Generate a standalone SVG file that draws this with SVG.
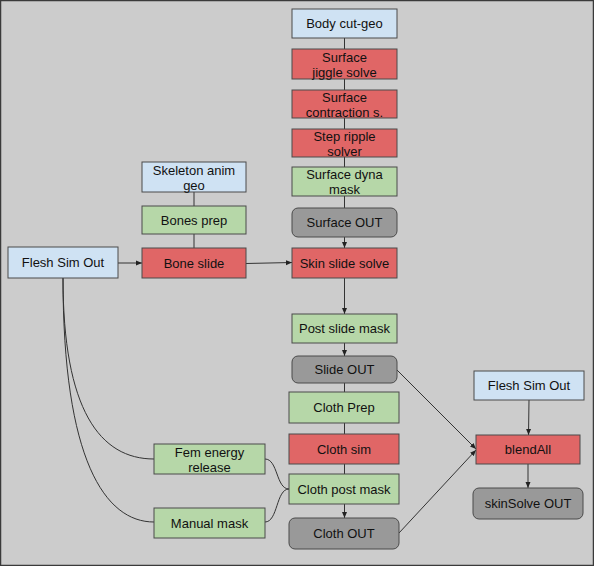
<svg xmlns="http://www.w3.org/2000/svg" width="594" height="566" viewBox="0 0 594 566">
<defs>
<marker id="ah" markerWidth="6" markerHeight="6" refX="6" refY="3" orient="auto" markerUnits="userSpaceOnUse">
<path d="M0,0.5 L6,3 L0,5.5 Z" fill="#222"/>
</marker>
<style>
.n rect{stroke:#4a4a4a;stroke-width:1}
.blue rect{fill:#cfe2f3}
.red rect{fill:#e06666}
.green rect{fill:#b6d7a8}
.gray rect{fill:#999999}
text{font-family:"Liberation Sans",Arial,sans-serif;font-size:13px;fill:#111;text-anchor:middle}
.c path{fill:none;stroke:#333;stroke-width:1}
</style>
</defs>
<rect x="0.5" y="0.5" width="593" height="565" fill="#cccccc" stroke="#3a3a3a" stroke-width="1.5"/>
<g class="c" id="connectors">
<path d="M344.5,38 V49"/>
<path d="M344.5,79 V90"/>
<path d="M344.5,118 V129"/>
<path d="M344.5,157 V167"/>
<path d="M344.5,196 V208"/>
<path d="M344.5,237 V248" marker-end="url(#ah)"/>
<path d="M344.5,278 V314" marker-end="url(#ah)"/>
<path d="M344.5,343 V356" marker-end="url(#ah)"/>
<path d="M344.5,383 V392"/>
<path d="M344.5,423 V434"/>
<path d="M344.5,464 V474"/>
<path d="M344.5,504 V518" marker-end="url(#ah)"/>
<path d="M194,192 V206"/>
<path d="M194,234 V248"/>
<path d="M118,263 H142" marker-end="url(#ah)"/>
<path d="M246,263.5 L292,262.5" marker-end="url(#ah)"/>
<path d="M63,278 C63,410 100,459 154,459"/>
<path d="M63,278 C63,460 105,522 154,522"/>
<path d="M265,459 C278,459 276,489 289,489"/>
<path d="M265,522 C278,522 276,489 289,489"/>
<path d="M396,369 L476,449" marker-end="url(#ah)"/>
<path d="M399,533 L476,450" marker-end="url(#ah)"/>
<path d="M529,400 L528.5,435" marker-end="url(#ah)"/>
<path d="M528,464 V488" marker-end="url(#ah)"/>
</g>
<g id="body-cut-geo" class="n blue"><rect x="292" y="9" width="105" height="29"/><text x="344.5" y="28">Body cut-geo</text></g>
<g id="surface-jiggle" class="n red"><rect x="292" y="49" width="105" height="30"/><text x="344.5" y="61.5">Surface</text><text x="344.5" y="76.5">jiggle solve</text></g>
<g id="surface-contraction" class="n red"><rect x="292" y="90" width="105" height="28"/><text x="344.5" y="101.5">Surface</text><text x="344.5" y="116.5">contraction s.</text></g>
<g id="step-ripple" class="n red"><rect x="292" y="129" width="105" height="28"/><text x="344.5" y="140.5">Step ripple</text><text x="344.5" y="155.5">solver</text></g>
<g id="surface-dyna-mask" class="n green"><rect x="292" y="167" width="105" height="29"/><text x="344.5" y="179">Surface dyna</text><text x="344.5" y="194">mask</text></g>
<g id="surface-out" class="n gray"><rect x="292" y="208" width="105" height="29" rx="6"/><text x="344.5" y="227">Surface OUT</text></g>
<g id="skin-slide-solve" class="n red"><rect x="292" y="248" width="105" height="30"/><text x="344.5" y="267.5">Skin slide solve</text></g>
<g id="post-slide-mask" class="n green"><rect x="292" y="314" width="105" height="29"/><text x="344.5" y="333">Post slide mask</text></g>
<g id="slide-out" class="n gray"><rect x="292" y="356" width="105" height="27" rx="6"/><text x="344.5" y="374">Slide OUT</text></g>
<g id="cloth-prep" class="n green"><rect x="289" y="392" width="110" height="31"/><text x="344" y="412">Cloth Prep</text></g>
<g id="cloth-sim" class="n red"><rect x="289" y="434" width="110" height="30"/><text x="344" y="453.5">Cloth sim</text></g>
<g id="cloth-post-mask" class="n green"><rect x="289" y="474" width="110" height="30"/><text x="344" y="493.5">Cloth post mask</text></g>
<g id="cloth-out" class="n gray"><rect x="289" y="518" width="110" height="31" rx="6"/><text x="344" y="538">Cloth OUT</text></g>
<g id="skeleton-anim-geo" class="n blue"><rect x="142" y="162" width="104" height="30"/><text x="194" y="174.5">Skeleton anim</text><text x="194" y="189.5">geo</text></g>
<g id="bones-prep" class="n green"><rect x="142" y="206" width="104" height="28"/><text x="194" y="224.5">Bones prep</text></g>
<g id="bone-slide" class="n red"><rect x="142" y="248" width="104" height="30"/><text x="194" y="267.5">Bone slide</text></g>
<g id="flesh-sim-out-left" class="n blue"><rect x="8" y="247" width="110" height="31"/><text x="63" y="267">Flesh Sim Out</text></g>
<g id="fem-energy-release" class="n green"><rect x="154" y="444" width="111" height="30"/><text x="209.5" y="456.5">Fem energy</text><text x="209.5" y="471.5">release</text></g>
<g id="manual-mask" class="n green"><rect x="154" y="508" width="111" height="30"/><text x="209.5" y="527.5">Manual mask</text></g>
<g id="flesh-sim-out-right" class="n blue"><rect x="474" y="371" width="110" height="29"/><text x="529" y="390">Flesh Sim Out</text></g>
<g id="blendall" class="n red"><rect x="476" y="435" width="104" height="29"/><text x="528" y="454">blendAll</text></g>
<g id="skinsolve-out" class="n gray"><rect x="473" y="488" width="110" height="31" rx="6"/><text x="528" y="508">skinSolve OUT</text></g>
</svg>
